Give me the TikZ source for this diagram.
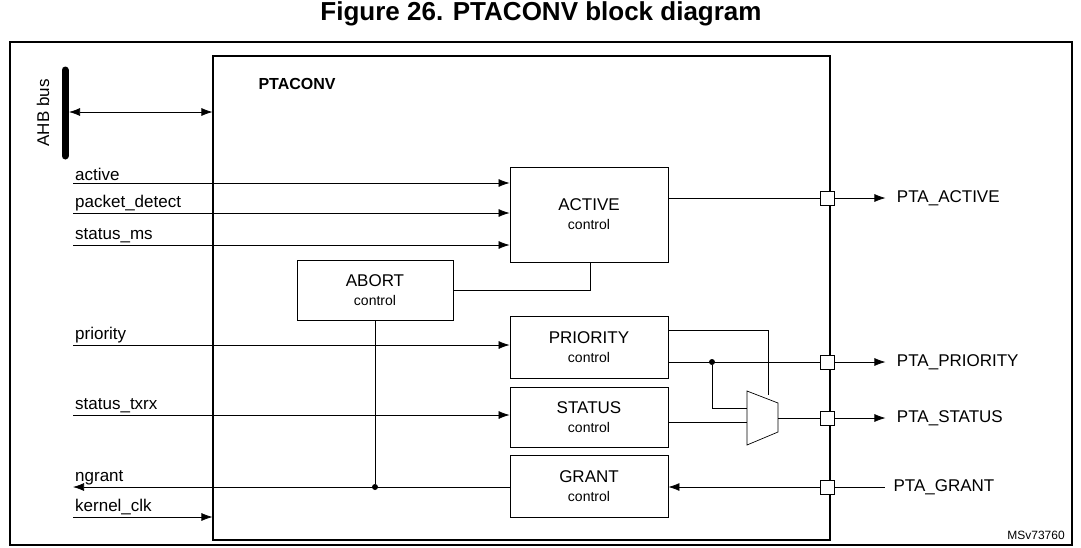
\documentclass[tikz,border=0pt]{standalone}
\usepackage{fontspec}
\setmainfont{Liberation Sans}
\usetikzlibrary{calc, arrows.meta, positioning}
\begin{document}
\begin{tikzpicture}
    [
        x=1pt,y=-1pt,>={Latex[length=11pt,width=8pt]},
        font=\fontsize{17}{19}\selectfont,
        blk/.style={draw, line width=0.9pt, align=center, inner sep=0pt},
        pad/.style={draw, line width=0.9pt, fill=white, minimum size=14pt, inner sep=0pt},
        sig/.style={anchor=south west, inner sep=2pt}
    ]
    \tikzstyle{line} = [draw, line width=0.7pt, ->]
    \tikzstyle{wire} = [draw, line width=0.7pt]
    \tikzstyle{branch} = [fill,shape=circle,minimum size=6pt,inner sep=0pt]
    \useasboundingbox (0,0) rectangle (1081,547);

    \node[font=\fontsize{26}{28}\selectfont\bfseries] (title) at (541,14) {Figure 26. PTACONV block diagram};
    \draw[line width=1.3pt] (10,42) rectangle (1072,545);

    % main block
    \node[blk, line width=1.1pt, minimum width=617, minimum height=484] (pta) at (521.5,298) {};
    \node[font=\fontsize{16}{18}\selectfont\bfseries, anchor=west] (ptaname) at (255,84) {PTACONV};

    % bus
    \draw[line width=7pt, line cap=round] (65,70) -- (65,156);
    \coordinate (bus) at (69,112);
    \node[rotate=90] (busname) at (43,113) {AHB bus};
    \path[line, <->] (bus) -- (bus -| pta.west);

    % blocks
    \node[blk, minimum width=158, minimum height=95] (act) at (589,214.5) {ACTIVE\\{\fontsize{14}{17}\selectfont control}};
    \node[blk, minimum width=156, minimum height=60] (abort) at (375,290) {ABORT\\{\fontsize{14}{17}\selectfont control}};
    \node[blk, minimum width=158, minimum height=62] (prio) at (589,347) {PRIORITY\\{\fontsize{14}{17}\selectfont control}};
    \node[blk, minimum width=158, minimum height=60] (stat) at (589,417) {STATUS\\{\fontsize{14}{17}\selectfont control}};
    \node[blk, minimum width=158, minimum height=62] (grant) at (589,486) {GRANT\\{\fontsize{14}{17}\selectfont control}};

    % inputs
    \foreach \y/\name/\txt in {183/iact/active, 213/ipkt/packet\_detect, 245/ims/status\_ms, 345/iprio/priority, 415/istat/status\_txrx} {
        \coordinate (\name) at (73,\y);
        \node[sig] at (\name) {\txt};
        \path[line] (\name) -- (\name -| act.west);
    }
    \coordinate (ngr) at (73,487);
    \node[sig] at (ngr) {ngrant};
    \coordinate (kclk) at (73,517);
    \node[sig] at (kclk) {kernel\_clk};
    \path[line] (kclk) -- (kclk -| pta.west);

    % pads
    \foreach \y/\name in {198/pact, 362/pprio, 418/pstat, 487/pgr}
        \node[pad] (\name) at (827,\y) {};

    % mux
    \coordinate (mtl) at (747,391);
    \coordinate (mbl) at (747,445);
    \coordinate (mtr) at (778,403);
    \coordinate (mbr) at (778,432);
    \draw[line width=0.7pt] (mtl) -- (mtr) -- (mbr) -- (mbl) -- cycle;

    % wires
    \path[wire] (act.east |- pact) -- (pact);
    \path[wire] (abort.east) -- (590,290) -- (act.south -| 590,0);
    \path[wire] (prio.north east |- 0,330) -- (768,330) -- (768,395);
    \path[wire] (prio.east |- pprio) -- (pprio);
    \node[branch] (dot1) at (712,362) {};
    \path[wire] (dot1) -- (712,408) -- (747,408);
    \path[wire] (stat.east |- 0,422) -- (747,422);
    \path[wire] (778,418) -- (pstat);
    \node[branch] (dot2) at (375,487) {};
    \path[wire] (abort.south) -- (dot2);
    \path[line] (grant.west |- ngr) -- (ngr);
    \path[line] (pgr) -- (grant.east |- pgr);
    \path[wire] (pgr.east) -- (885,487);
    \node[anchor=west] (ogr) at (890,487) {PTA\_GRANT};

    % outputs
    \foreach \p/\txt in {pact/PTA\_ACTIVE, pprio/PTA\_PRIORITY, pstat/PTA\_STATUS} {
        \coordinate (e\p) at ($(\p.east)+(51,0)$);
        \path[line] (\p.east) -- (e\p);
        \node[anchor=west] at ($(e\p)+(8,0)$) {\txt};
    }

    \node[font=\fontsize{12}{14}\selectfont] (ref) at (1036,535) {MSv73760};
\end{tikzpicture}
\end{document}
